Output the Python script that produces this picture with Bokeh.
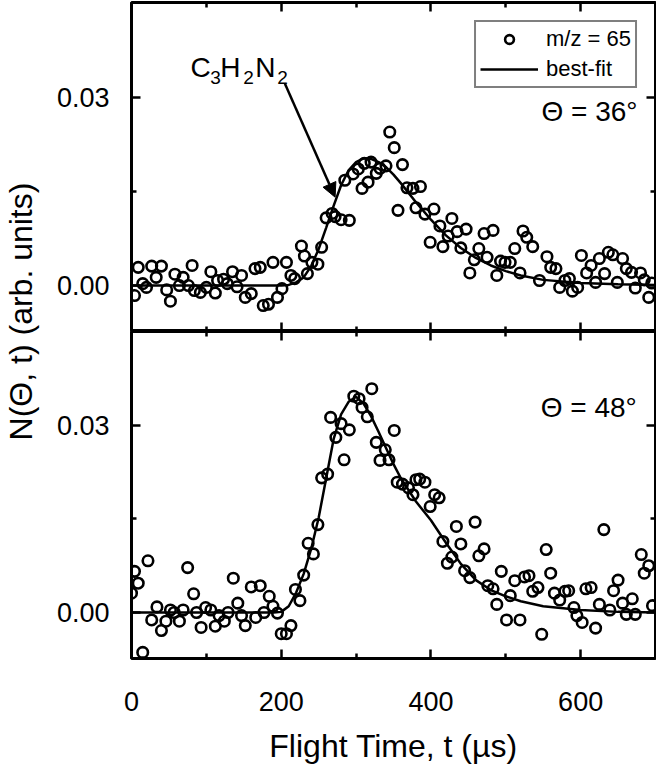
from bokeh.plotting import figure
from bokeh.models import (Range1d, FixedTicker, LinearAxis, PrintfTickFormatter, Label,
                          Arrow, NormalHead, Legend, LegendItem, CustomJSTickFormatter)
from bokeh.layouts import row, column
from bokeh.embed import file_html
from bokeh.resources import INLINE

# ---------------- data ----------------
top_t = [4, 9, 15, 20, 27, 33, 40, 47, 52, 58, 64, 69, 76, 81, 84, 92, 100, 106, 112, 115,
         123, 128, 135, 141, 147, 152, 160, 165, 172, 176, 183, 189, 195, 201, 207, 213, 218,
         227, 231, 235, 241, 249, 254, 260, 268, 272, 280, 285, 291, 296, 303, 308, 311, 316,
         320, 327, 332, 340, 345, 351, 356, 362, 368, 376, 380, 386, 392, 399, 404, 412, 416,
         423, 428, 435, 440, 447, 452, 458, 464, 471, 475, 483, 488, 493, 499, 506, 512, 519,
         523, 528, 536, 545, 555, 560, 567, 572, 579, 585, 589, 596, 601, 608, 614, 620, 625,
         632, 637, 643, 649, 656, 661, 668, 673, 680, 685, 691, 695]
top_n = [-0.0016, 0.0029, 0.0003, -0.0003, 0.0031, 0.0013, 0.0031, -0.0007, -0.0025, 0.0018,
         0.0000, 0.0013, 0.0000, 0.0032, -0.0008, -0.0011, -0.0003, 0.0022, -0.0012, 0.0008,
         0.0010, 0.0003, 0.0022, -0.0002, 0.0016, -0.0019, -0.0013, 0.0027, 0.0029, -0.0032,
         -0.0030, 0.0037, -0.0019, -0.0005, 0.0037, 0.0016, 0.0011,
         0.0063, 0.0047, 0.0019, 0.0037, 0.0034, 0.0061, 0.0108, 0.0115, 0.0110, 0.0105,
         0.0168, 0.0104, 0.0178, 0.0186, 0.0155, 0.0195, 0.0165, 0.0197, 0.0179, 0.0187,
         0.0191, 0.0245, 0.0220, 0.0120, 0.0193, 0.0156, 0.0155, 0.0124, 0.0158, 0.0114,
         0.0069, 0.0122, 0.0095, 0.0062, 0.0079, 0.0107, 0.0086, 0.0060, 0.0090, 0.0020,
         0.0041, 0.0059, 0.0083, 0.0045, 0.0088, 0.0016, 0.0039, 0.0037, 0.0037, 0.0059,
         0.0020, 0.0087, 0.0077, 0.0062, 0.0008, 0.0046, 0.0029, 0.0027, -0.0003, 0.0008,
         0.0011, -0.0009, -0.0003, 0.0048, 0.0020, 0.0032, 0.0005, 0.0043, 0.0019, 0.0053,
         0.0049, 0.0005, 0.0043, 0.0027, 0.0021, -0.0004, 0.0020, 0.0009, -0.0019, 0.0004]

top_fit_t = [0, 100, 200, 210, 220, 230, 240, 250, 260, 270, 280, 290, 300, 310, 320, 330,
             340, 350, 360, 380, 400, 420, 440, 460, 480, 500, 520, 550, 600, 650, 700]
top_fit_n = [0.0, 0.0, 0.0, 0.0001, 0.0005, 0.0013, 0.0031, 0.0058, 0.0092, 0.0127, 0.0160,
             0.0184, 0.0197, 0.0203, 0.0202, 0.0197, 0.0189, 0.0177, 0.0163, 0.0133, 0.0105,
             0.0080, 0.0060, 0.0044, 0.0032, 0.0023, 0.0016, 0.0009, 0.0004, 0.0002, 0.0001]

bot_t = [0, 4, 9, 15, 22, 27, 34, 40, 46, 52, 57, 64, 69, 75, 83, 87, 93, 99, 106, 112, 117,
         124, 129, 136, 142, 147, 152, 160, 166, 172, 177, 184, 189, 195, 200, 207, 213, 219,
         225, 230, 236, 243, 249, 254, 262, 266, 273, 280, 284, 291, 297, 304, 308, 315, 321,
         327, 332, 339, 344, 351, 355, 362, 370, 376, 380, 385, 392, 399, 405, 411, 416, 422,
         428, 434, 440, 445, 452, 459, 464, 471, 476, 483, 488, 494, 501, 506, 512, 519, 525,
         531, 536, 543, 548, 554, 560, 565, 572, 579, 584, 591, 595, 602, 607, 614, 620, 625,
         631, 639, 644, 650, 656, 661, 669, 673, 681, 685, 691, 696]
bot_n = [0.0031, 0.0066, 0.0047, -0.0064, 0.0083, -0.0012, 0.0009, -0.0029, -0.0014, 0.0004,
         0.0000, -0.0014, 0.0004, 0.0072, 0.0030, 0.0000, -0.0024, 0.0008, 0.0004, -0.0022,
         -0.0005, -0.0014, 0.0000, 0.0055, 0.0015, -0.0005, -0.0021, 0.0041, -0.0008, 0.0043,
         0.0000, 0.0026, 0.0010, -0.0001, -0.0034, -0.0034, -0.0021, 0.0037, 0.0019, 0.0060,
         0.0111, 0.0094, 0.0141, 0.0216, 0.0222, 0.0313, 0.0281, 0.0303, 0.0245, 0.0293,
         0.0347, 0.0343, 0.0329, 0.0314, 0.0359, 0.0273, 0.0244, 0.0261, 0.0245, 0.0292,
         0.0209, 0.0206, 0.0200, 0.0189, 0.0213, 0.0214, 0.0209, 0.0170, 0.0189, 0.0184,
         0.0114, 0.0079, 0.0089, 0.0138, 0.0110, 0.0067, 0.0056, 0.0145, 0.0091, 0.0102,
         0.0043, 0.0038, 0.0013, 0.0066, -0.0012, 0.0027, 0.0051, -0.0012, 0.0057, 0.0059,
         0.0034, 0.0040, -0.0035, 0.0101, 0.0063, 0.0031, 0.0020, 0.0034, 0.0035, 0.0008,
         -0.0005, -0.0016, 0.0038, 0.0040, -0.0025, 0.0013, 0.0133, 0.0004, 0.0035, 0.0052,
         0.0015, -0.0003, 0.0022, -0.0003, 0.0093, 0.0063, 0.0075, 0.0011]

bot_fit_t = [0, 100, 190, 200, 210, 220, 230, 240, 250, 260, 270, 280, 290, 300, 310, 320,
             330, 340, 350, 360, 380, 400, 420, 440, 460, 480, 500, 520, 550, 600, 650, 700]
bot_fit_n = [0.0, 0.0, 0.0, 0.0001, 0.0010, 0.0032, 0.0062, 0.0102, 0.0152, 0.0215, 0.0278,
             0.0318, 0.0338, 0.0346, 0.0335, 0.0315, 0.0290, 0.0264, 0.0238, 0.0215, 0.0178,
             0.0148, 0.0112, 0.0078, 0.0052, 0.0036, 0.0026, 0.0018, 0.0010, 0.0004, 0.0001, 0.0]

x_major = [0, 200, 400, 600]
x_minor = [100, 300, 500]
y_major = [0.0, 0.03]
y_minor = [0.015]

FONT = "Liberation Sans"
TICK_FONT = "27px"


def style_axis(ax, ticker, labels=True, fmt=None):
    ax.ticker = ticker
    ax.axis_line_color = None
    ax.major_tick_in = 9
    ax.major_tick_out = 0
    ax.minor_tick_in = 5
    ax.minor_tick_out = 0
    ax.major_tick_line_width = 2.5
    ax.minor_tick_line_width = 2.5
    ax.major_tick_line_color = "black"
    ax.minor_tick_line_color = "black"
    if labels:
        if fmt is not None:
            ax.formatter = fmt
        ax.major_label_text_font = FONT
        ax.major_label_text_font_size = TICK_FONT
        ax.major_label_text_color = "black"
    else:
        ax.formatter = CustomJSTickFormatter(code="return ''")
        ax.major_label_text_font_size = "1px"
        ax.major_label_standoff = 0


def make_panel(height, y_start, y_end, show_x_labels, min_top):
    p = figure(width=608, height=height, output_backend="svg", toolbar_location=None,
               x_range=Range1d(0, 700), y_range=Range1d(y_start, y_end),
               min_border_left=83, min_border_right=1, min_border_top=min_top,
               min_border_bottom=0)
    p.grid.visible = False
    p.outline_line_color = "black"
    p.outline_line_width = 3
    p.background_fill_color = "white"
    p.border_fill_color = "white"
    xt = FixedTicker(ticks=x_major, minor_ticks=x_minor)
    yt = FixedTicker(ticks=y_major, minor_ticks=y_minor)
    style_axis(p.below[0], xt, labels=show_x_labels)
    style_axis(p.left[0], yt, labels=True, fmt=PrintfTickFormatter(format="%.2f"))
    p.left[0].major_label_standoff = 22
    top_ax = LinearAxis()
    style_axis(top_ax, FixedTicker(ticks=x_major, minor_ticks=x_minor), labels=False)
    p.add_layout(top_ax, "above")
    right_ax = LinearAxis()
    style_axis(right_ax, FixedTicker(ticks=y_major, minor_ticks=y_minor), labels=False)
    p.add_layout(right_ax, "right")
    return p


# ---------------- top panel (36 deg) ----------------
p1 = make_panel(331, -0.00734, 0.04517, False, 2)
fit1 = p1.line(top_fit_t, top_fit_n, line_color="black", line_width=2.5)
pts1 = p1.scatter(top_t, top_n, marker="circle", size=10.5, fill_color=None,
                  line_color="black", line_width=2.6)

legend = Legend(items=[LegendItem(label="m/z = 65", renderers=[pts1]),
                       LegendItem(label="best-fit", renderers=[fit1])],
                location="top_right")
legend.margin = 18
legend.padding = 4
legend.spacing = 4
legend.glyph_width = 58
legend.glyph_height = 22
legend.label_height = 22
legend.label_standoff = 8
legend.label_text_font = FONT
legend.label_text_font_size = "22px"
legend.label_text_color = "black"
legend.border_line_color = "black"
legend.border_line_width = 2
legend.background_fill_alpha = 1.0
p1.add_layout(legend)

p1.add_layout(Label(x=676, y=0.0278, text="Θ = 36°", text_align="right",
                    text_baseline="middle", text_font=FONT, text_font_size="28px",
                    text_color="black"))

# molecule label with subscripts
for txt, xx, yy, fs in [("C", 78.7, 0.0348, "28px"), ("3", 105.3, 0.0332, "19px"),
                        ("H", 118.7, 0.0348, "28px"), ("2", 149.3, 0.0332, "19px"),
                        ("N", 165.3, 0.0348, "28px"), ("2", 194.7, 0.0332, "19px")]:
    p1.add_layout(Label(x=xx, y=yy, text=txt, text_align="left", text_baseline="alphabetic",
                        text_font=FONT, text_font_size=fs, text_color="black"))
p1.add_layout(Arrow(end=NormalHead(size=14, fill_color="black", line_color="black"),
                    x_start=205, y_start=0.0322, x_end=272, y_end=0.0141,
                    line_width=2.5, line_color="black"))

# ---------------- bottom panel (48 deg) ----------------
p2 = make_panel(435, -0.00738, 0.04508, True, 0)
p2.line(bot_fit_t, bot_fit_n, line_color="black", line_width=2.5)
p2.scatter(bot_t, bot_n, marker="circle", size=10.5, fill_color=None,
           line_color="black", line_width=2.6)
xb = p2.below[0]
xb.major_label_standoff = 33
xb.axis_label = "Flight Time, t (µs)"
xb.axis_label_text_font = FONT
xb.axis_label_text_font_size = "32px"
xb.axis_label_text_font_style = "normal"
xb.axis_label_text_color = "black"
xb.axis_label_standoff = 14
p2.add_layout(Label(x=675, y=0.0329, text="Θ = 48°", text_align="right",
                    text_baseline="middle", text_font=FONT, text_font_size="28px",
                    text_color="black"))

# ---------------- shared y-axis title ----------------
pl = figure(width=48, height=766, output_backend="svg", toolbar_location=None,
            x_range=Range1d(0, 1), y_range=Range1d(0, 1),
            min_border=0, min_border_left=0, min_border_right=0,
            min_border_top=0, min_border_bottom=0)
pl.axis.visible = False
pl.grid.visible = False
pl.outline_line_color = None
pl.add_layout(Label(x=0.42, y=0.594, text="N(Θ, t) (arb. units)", angle=90,
                    angle_units="deg", text_align="center", text_baseline="middle",
                    text_font=FONT, text_font_size="32px", text_color="black"))

layout = row(pl, column(p1, p2, spacing=0), spacing=0)

open("out.html", "w").write(file_html(layout, INLINE))
